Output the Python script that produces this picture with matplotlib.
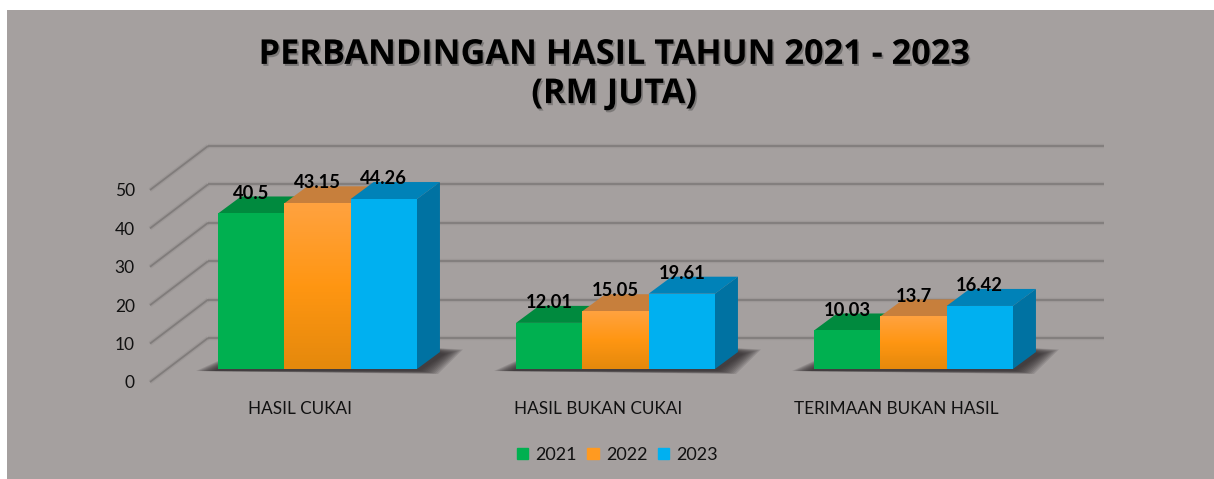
import numpy as np
import matplotlib
matplotlib.use('Agg')
import matplotlib.pyplot as plt
import matplotlib.patheffects as pe
from matplotlib.colors import LinearSegmentedColormap
from matplotlib.patches import Patch, Polygon, Rectangle

categories = ['HASIL CUKAI', 'HASIL BUKAN CUKAI', 'TERIMAAN BUKAN HASIL']
years = ['2021', '2022', '2023']
hasil_2021 = [40.5, 12.01, 10.03]
hasil_2022 = [43.15, 15.05, 13.7]
hasil_2023 = [44.26, 19.61, 16.42]
y_ticks = [0, 10, 20, 30, 40, 50]

W, H = 1214, 479
PANEL = '#a5a09f'
GRID = '#7f7b7a'
front = ['#00b050', '#ff9a20', '#00b0f0']
top = ['#008a3e', '#c77f3c', '#0082b8']
side = ['#007a36', '#b06a10', '#0072a2']

plt.rcParams['font.family'] = ['Lato', 'DejaVu Sans']

fig = plt.figure(figsize=(W / 100, H / 100), dpi=100, facecolor='white')
fig.add_artist(Rectangle((7 / W, 0), 1207 / W, 469 / H, transform=fig.transFigure,
                         facecolor=PANEL, edgecolor='none', zorder=-5))

# axes = front plane of the 3d box, x goes 298 px per category, y 3.84 px per unit
ax = fig.add_axes([150 / W, 1 - 382 / H, 954 / W, 236 / H])
ax.patch.set_visible(False)
xlim = ((150 - 300.5) / 298, (1104 - 300.5) / 298)
ylim = (0, 236 / 3.84)
for s in ax.spines.values():
    s.set_visible(False)

px = 1 / 298
py = 1 / 3.84

# back wall lines and the diagonals
for v in y_ticks:
    for lw, alpha in [(3.2, 0.22), (1.3, 0.95)]:
        ax.plot([xlim[0] + 58 * px, xlim[1]], [v + 44 * py, v + 44 * py], color=GRID, lw=lw,
                alpha=alpha, zorder=1, clip_on=False, solid_capstyle='butt')
        ax.plot([xlim[0], xlim[0] + 58 * px], [v, v + 44 * py], color=GRID, lw=lw,
                alpha=alpha, zorder=1, clip_on=False, solid_capstyle='butt')

base = 13 * py
dx = 23 * px
dy = 17 * py
width = 66.3 * px
shift = 17 * px
x = np.arange(len(categories))
series = [hasil_2021, hasil_2022, hasil_2023]

# shadow on the floor, soft edge from stacked polygons
for i in x:
    left = i + shift - 1.5 * width
    right = i + shift + 1.5 * width
    for k in range(10):
        grow = (9 - k) * 2.0
        ax.add_patch(Polygon([(left - (4 + grow) * px, base - 2 * py),
                              (right + (3 + grow) * px, base - (2 + grow / 6) * py),
                              (right + (28 + grow) * px, base + (15 + grow / 4) * py),
                              (right, base + 22 * py),
                              (left + 26 * px, base + (14 + grow / 3) * py)],
                             facecolor='#2a2628', edgecolor='none', alpha=0.14, zorder=2))

orange_map = LinearSegmentedColormap.from_list('orange', ['#e5890c', '#ff9612', '#ffa23f'])
grad = np.linspace(0, 1, 64).reshape(-1, 1)

for n, vals in enumerate(series):
    pos = x + shift + (n - 1) * width
    for xi, v in zip(pos, vals):
        l, r = xi - width / 2, xi + width / 2
        t = base + v
        ax.add_patch(Polygon([(l, t), (r, t), (r + dx, t + dy), (l + dx, t + dy)],
                             facecolor=top[n], edgecolor='none', zorder=3 + n))
        ax.add_patch(Polygon([(r, base), (r + dx, base + dy), (r + dx, t + dy), (r, t)],
                             facecolor=side[n], edgecolor='none', zorder=3 + n))
    bars = ax.bar(pos, vals, width, bottom=base, color=front[n], zorder=3 + n)
    if n == 1:
        for xi, v in zip(pos, vals):
            ax.imshow(grad, cmap=orange_map, origin='lower', aspect='auto', zorder=3.5 + n,
                      extent=(xi - width / 2, xi + width / 2, base, base + v))
    ax.bar_label(bars, labels=[f'{v:g}' for v in vals], padding=8.5, fontsize=13.2, fontweight='bold',
                 color='black', zorder=10)

ax.set_xlim(xlim)
ax.set_ylim(ylim)

ax.set_xticks(x, categories)
ax.set_yticks(y_ticks)
ax.tick_params(axis='x', length=0, pad=13.5, labelsize=12.3, labelcolor='#111111')
ax.tick_params(axis='y', length=0, pad=11, labelsize=12.5, labelcolor='#111111')

handles = [Patch(color=c, label=y) for c, y in zip(front, years)]
fig.legend(handles=handles, loc='center', bbox_to_anchor=(617.5 / W, 1 - 455 / H), ncol=3, frameon=False,
           fontsize=13, handlelength=0.62, handleheight=0.62, handletextpad=0.4, columnspacing=0.6,
           labelcolor='#111111')

title = fig.text(614 / W, 1 - 74.5 / H, 'PERBANDINGAN HASIL TAHUN 2021 - 2023\n(RM JUTA)', ha='center', va='center',
                 fontsize=24.7, fontweight='bold', color='black', linespacing=1.2,
                 family=['Open Sans', 'DejaVu Sans'])
title.set_path_effects([pe.withSimplePatchShadow(offset=(1.2, -1.5), shadow_rgbFace='#4a4a4a', alpha=0.45)])

fig.savefig('out.png', dpi=100, facecolor='white')
